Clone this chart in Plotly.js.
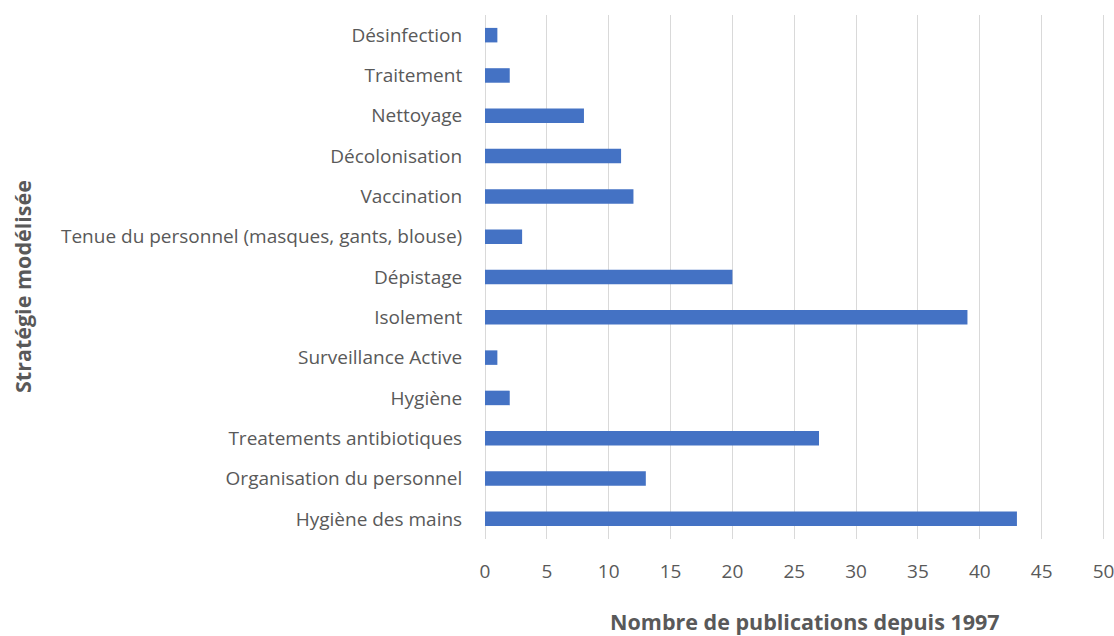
<!DOCTYPE html>
<html>
<head>
<meta charset="utf-8">
<script src="https://cdn.plot.ly/plotly-3.0.1.min.js"></script>
<style>html,body{margin:0;padding:0;background:#fff;}#chart{width:1114px;height:636px;}</style>
</head>
<body>
<div id="chart"></div>
<script>
const categories = [
  "Hygiène des mains",
  "Organisation du personnel",
  "Treatements antibiotiques",
  "Hygiène",
  "Surveillance Active",
  "Isolement",
  "Dépistage",
  "Tenue du personnel (masques, gants, blouse)",
  "Vaccination",
  "Décolonisation",
  "Nettoyage",
  "Traitement",
  "Désinfection"
];
const publications = [43, 13, 27, 2, 1, 39, 20, 3, 12, 11, 8, 2, 1];
const xTicks = [0, 5, 10, 15, 20, 25, 30, 35, 40, 45, 50];
const xTitle = 'Nombre de publications depuis 1997';
const yTitle = 'Stratégie modélisée';

const FONT = '"Open Sans", Lato, sans-serif';

const trace = {
  type: 'bar',
  orientation: 'h',
  y: categories,
  x: publications,
  marker: {color: '#4472C4'},
  hoverinfo: 'x+y'
};

const layout = {
  width: 1114, height: 636,
  margin: {l: 485, r: 8, t: 15, b: 97},
  paper_bgcolor: '#fff', plot_bgcolor: '#fff',
  font: {family: FONT, size: 19, color: '#595959'},
  bargap: 0.64,
  showlegend: false,
  xaxis: {
    range: [0, 50.2],
    tickvals: xTicks,
    ticktext: xTicks.map(String),
    showgrid: true, gridcolor: '#D9D9D9', gridwidth: 1,
    zeroline: true, zerolinecolor: '#D9D9D9', zerolinewidth: 1,
    showline: false,
    ticks: 'outside', ticklen: 15, tickcolor: 'rgba(0,0,0,0)',
    ticklabeloverflow: 'allow',
    automargin: false
  },
  yaxis: {
    type: 'category',
    showgrid: false, zeroline: false, showline: false,
    ticks: 'outside', ticklen: 18, tickcolor: 'rgba(0,0,0,0)',
    automargin: false
  },
  annotations: [
    {text: '<b>' + xTitle + '</b>', xref: 'paper', yref: 'paper', x: (805 - 485) / 621, y: -(621 - 539) / 524,
     xanchor: 'center', yanchor: 'middle', showarrow: false, font: {size: 21.5, color: '#595959', family: FONT}},
    {text: '<b>' + yTitle + '</b>', xref: 'paper', yref: 'paper', x: -(485 - 22) / 621, y: (539 - 287) / 524,
     xanchor: 'center', yanchor: 'middle', textangle: -90, showarrow: false, font: {size: 21.5, color: '#595959', family: FONT}}
  ]
};

Plotly.newPlot('chart', [trace], layout, {displayModeBar: false, staticPlot: true});
</script>
</body>
</html>
